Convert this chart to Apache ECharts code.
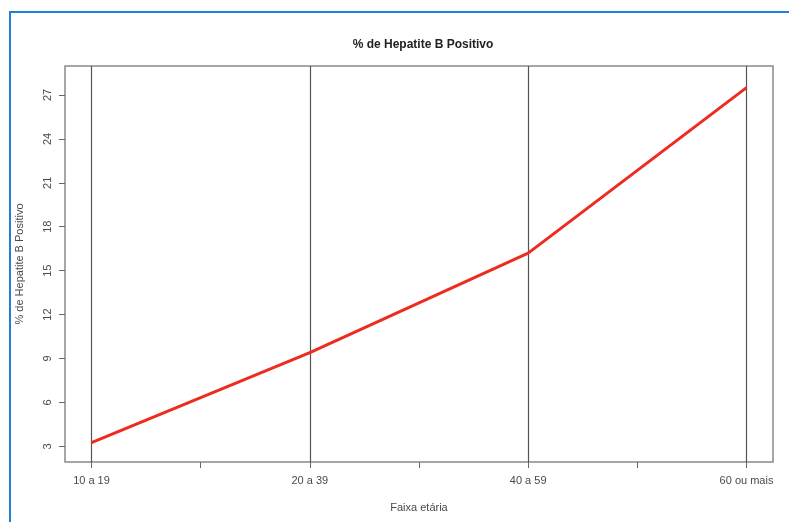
<!DOCTYPE html>
<html>
<head>
<meta charset="utf-8">
<script src="https://cdn.jsdelivr.net/npm/echarts@6/dist/echarts.min.js"></script>
<style>
  html, body { margin: 0; padding: 0; background: #ffffff; }
  #chart { width: 789px; height: 522px; }
</style>
</head>
<body>
<div id="chart"></div>
<script>
// Age groups and the share of positive Hepatitis B results in each
const categories = ['10 a 19', '20 a 39', '40 a 59', '60 ou mais'];
const positivePct = [3.25, 9.4, 16.2, 27.5];
const yTicks = [3, 6, 9, 12, 15, 18, 21, 24, 27];
const yRange = [1.93, 28.98];

const chart = echarts.init(document.getElementById('chart'), null, { renderer: 'canvas' });
const textFont = 'Liberation Sans';
const textColor = '#4a4a4a';

chart.setOption({
  backgroundColor: '#ffffff',
  animation: false,
  title: {
    text: '% de Hepatite B Positivo',
    left: 418,
    top: 34,
    textAlign: 'center',
    textStyle: { fontFamily: textFont, fontSize: 12, fontWeight: 'bold', color: '#222' }
  },
  graphic: [{
    type: 'rect',
    shape: { x: 10, y: 12, width: 800, height: 530 },
    style: { fill: 'none', stroke: '#1f80d8', lineWidth: 2 },
    silent: true
  }],
  grid: [
    // outer plotting box with the value axis
    { left: 65, right: 16, top: 66, bottom: 60, show: true, borderColor: '#8a8a8a', borderWidth: 1.5, backgroundColor: 'transparent' },
    // inner grid spanning the first to the last age group
    { left: 91.5, right: 42.5, top: 66, bottom: 60 }
  ],
  xAxis: [
    { gridIndex: 0, type: 'value', min: 0, max: 1, show: false },
    {
      gridIndex: 1, type: 'value', min: 0, max: categories.length - 1, interval: 1,
      axisLine: { show: false },
      axisTick: { show: true, length: 6, lineStyle: { color: '#666' } },
      minorTick: { show: true, splitNumber: 2, length: 6, lineStyle: { color: '#666' } },
      splitLine: { show: true, lineStyle: { color: '#555', width: 1.2 } },
      axisLabel: {
        margin: 13, fontFamily: textFont, fontSize: 11, color: textColor,
        formatter: v => categories[Math.round(v)] || ''
      },
      name: 'Faixa etária', nameLocation: 'middle', nameGap: 40,
      nameTextStyle: { fontFamily: textFont, fontSize: 11, color: textColor }
    }
  ],
  yAxis: [
    {
      gridIndex: 0, type: 'value', min: yRange[0], max: yRange[1],
      axisLine: { show: false },
      axisTick: { show: true, length: 6, customValues: yTicks, lineStyle: { color: '#666' } },
      axisLabel: {
        customValues: yTicks, rotate: 90, margin: 12,
        fontFamily: textFont, fontSize: 11, color: textColor
      },
      splitLine: { show: false },
      name: '% de Hepatite B Positivo', nameLocation: 'middle', nameGap: 40, nameRotate: 90,
      nameTextStyle: { fontFamily: textFont, fontSize: 11, color: textColor }
    },
    { gridIndex: 1, type: 'value', min: yRange[0], max: yRange[1], show: false, splitLine: { show: false } }
  ],
  series: [{
    type: 'line',
    xAxisIndex: 1,
    yAxisIndex: 1,
    data: positivePct.map((v, i) => [i, v]),
    symbol: 'none',
    lineStyle: { color: '#ee2b1f', width: 3 }
  }]
});
</script>
</body>
</html>
